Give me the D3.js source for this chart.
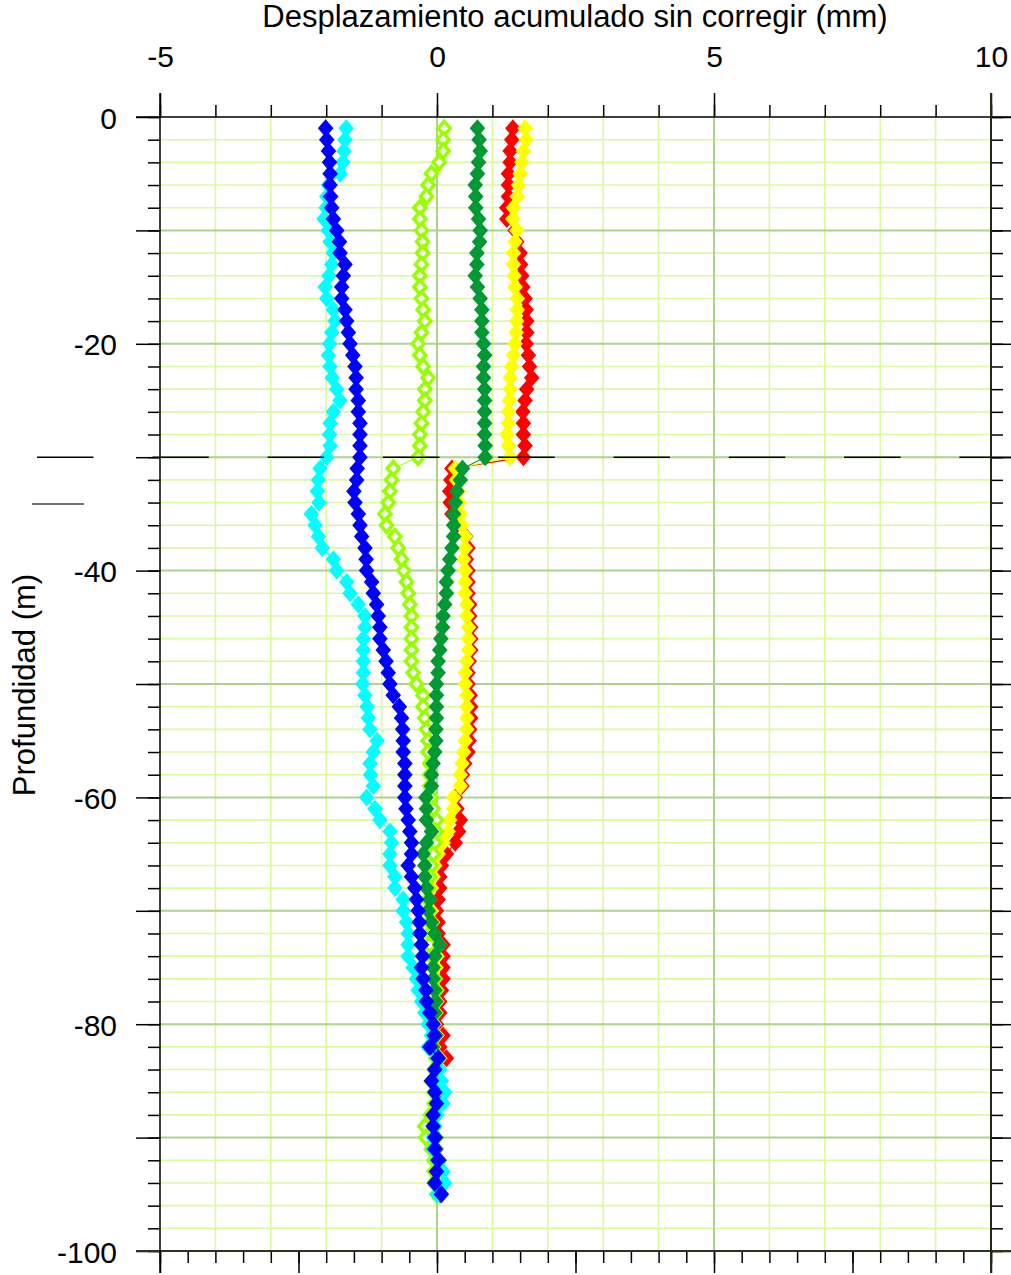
<!DOCTYPE html>
<html><head><meta charset="utf-8">
<script src="https://cdn.jsdelivr.net/npm/d3@7"></script>
<style>
html,body{margin:0;padding:0;background:#fff;}
svg{display:block;font-family:"Liberation Sans",Arial,sans-serif;}
</style></head>
<body><svg id="c" width="1011" height="1275"></svg>
<script>
const depths = [-1,-2,-3,-4,-5,-6,-7,-8,-9,-10,-11,-12,-13,-14,-15,-16,-17,-18,-19,-20,-21,-22,-23,-24,-25,-26,-27,-28,-29,-30,
-31,-32,-33,-34,-35,-36,-37,-38,-39,-40,-41,-42,-43,-44,-45,-46,-47,-48,-49,-50,-51,-52,-53,-54,-55,-56,-57,-58,-59,-60,
-61,-62,-63,-64,-65,-66,-67,-68,-69,-70,-71,-72,-73,-74,-75,-76,-77,-78,-79,-80,-81,-82,-83,-84,-85,-86,-87,-88,-89,-90,
-91,-92,-93,-94,-95];

const serRed = [1.37,1.35,1.32,1.32,1.29,1.29,1.29,1.26,1.26,1.41,1.44,1.50,1.51,1.53,1.55,1.59,1.61,1.62,1.62,1.61,1.65,1.67,1.71,1.62,1.59,1.55,1.56,1.56,1.59,1.56,
0.27,0.25,0.23,0.24,0.27,0.35,0.52,0.56,0.53,0.56,0.56,0.56,0.59,0.59,0.61,0.61,0.61,0.58,0.56,0.56,0.60,0.61,0.61,0.59,0.58,0.56,0.50,0.46,
0.45,0.33,0.36,0.42,0.39,0.33,0.17,0.08,0.05,0.05,0.02,-0.01,0.02,0.02,0.11,0.11,0.11,0.11,0.08,0.05,0.05,-0.01,0.11,0.05,0.17,
0.00,-0.05,0.00,0.02,-0.04,-0.05,-0.02,-0.02,0.04,0.01,-0.02,0.06];

const serYellow = [1.59,1.61,1.56,1.53,1.50,1.47,1.45,1.38,1.37,1.44,1.41,1.38,1.38,1.39,1.41,1.45,1.45,1.44,1.43,1.41,1.38,1.35,1.32,1.32,1.31,1.29,1.29,1.26,1.29,1.32,
0.33,0.35,0.38,0.40,0.42,0.45,0.51,0.51,0.48,0.51,0.51,0.51,0.54,0.54,0.57,0.57,0.57,0.54,0.51,0.51,0.54,0.54,0.54,0.54,0.51,0.48,0.45,0.42,
0.42,0.30,0.30,0.23,0.20,0.11,0.02,-0.04,-0.07,-0.10,-0.13,-0.10,-0.08,-0.05,0.05,0.00,-0.02,-0.03,-0.02,0.00,-0.02,-0.05,0.00,-0.06,0.05,
-0.02,-0.06,-0.02,0.00,-0.05,-0.06,-0.03,-0.03,0.02,0.00,-0.03,0.05];

const serLime = [0.13,0.11,0.11,0.04,-0.10,-0.16,-0.19,-0.31,-0.31,-0.28,-0.26,-0.26,-0.28,-0.31,-0.31,-0.28,-0.25,-0.22,-0.28,-0.34,-0.31,-0.25,-0.16,-0.22,-0.22,-0.25,-0.28,-0.31,-0.31,-0.34,
-0.79,-0.82,-0.85,-0.88,-0.94,-0.91,-0.76,-0.70,-0.64,-0.60,-0.55,-0.52,-0.49,-0.46,-0.46,-0.46,-0.46,-0.46,-0.43,-0.37,-0.25,-0.25,-0.22,-0.19,-0.16,-0.16,-0.13,-0.13,
-0.13,-0.10,-0.07,-0.01,-0.01,-0.04,-0.07,-0.10,-0.13,-0.16,-0.16,-0.14,-0.13,-0.13,-0.13,-0.10,-0.07,-0.04,-0.01,-0.04,-0.04,-0.06,
-0.05,-0.10,-0.02,-0.05,-0.10,-0.05,-0.05,-0.12,-0.22,-0.20,-0.10,-0.05,-0.05,-0.05,0.00];

const serGreen = [0.73,0.76,0.78,0.75,0.73,0.69,0.70,0.70,0.75,0.78,0.77,0.72,0.72,0.69,0.73,0.78,0.81,0.81,0.81,0.84,0.86,0.84,0.84,0.86,0.86,0.86,0.86,0.86,0.87,0.87,
0.46,0.42,0.36,0.33,0.30,0.30,0.30,0.27,0.23,0.20,0.17,0.17,0.14,0.11,0.10,0.07,0.05,0.02,0.02,-0.01,-0.01,-0.01,-0.01,-0.02,-0.02,-0.04,-0.07,-0.10,
-0.10,-0.20,-0.19,-0.19,-0.10,-0.19,-0.25,-0.22,-0.22,-0.19,-0.13,-0.16,-0.10,-0.04,0.05,-0.04,-0.07,-0.07,-0.04,-0.02,-0.04,-0.10,
-0.02,-0.08,0.03,0.00,-0.05,0.00,0.02,-0.04,-0.05,-0.02,-0.02,0.04,0.01,-0.02,0.06];

const serCyan = [-1.64,-1.66,-1.68,-1.70,-1.75,-1.96,-1.99,-2.00,-2.04,-1.96,-1.93,-1.87,-1.90,-1.95,-2.02,-1.99,-1.87,-1.84,-1.90,-1.94,-1.96,-1.93,-1.89,-1.81,-1.75,-1.87,-1.93,-1.94,-1.93,-1.99,
-2.11,-2.14,-2.16,-2.13,-2.27,-2.20,-2.14,-2.07,-1.87,-1.81,-1.63,-1.57,-1.42,-1.30,-1.30,-1.33,-1.33,-1.33,-1.33,-1.34,-1.30,-1.26,-1.24,-1.21,-1.08,-1.15,-1.21,-1.20,
-1.15,-1.27,-1.12,-1.03,-0.85,-0.82,-0.85,-0.85,-0.76,-0.76,-0.61,-0.61,-0.55,-0.52,-0.52,-0.52,-0.43,-0.37,-0.34,-0.28,-0.22,-0.16,-0.10,-0.16,0.00,
0.05,0.08,0.14,0.11,0.00,-0.04,-0.07,-0.07,0.00,0.11,0.14,0.00];

const serBlue = [-2.01,-1.99,-1.96,-1.94,-1.93,-1.93,-1.92,-1.90,-1.87,-1.81,-1.76,-1.75,-1.66,-1.69,-1.72,-1.72,-1.66,-1.63,-1.60,-1.57,-1.52,-1.48,-1.46,-1.46,-1.42,-1.42,-1.39,-1.39,-1.39,-1.39,
-1.44,-1.45,-1.50,-1.48,-1.42,-1.39,-1.36,-1.30,-1.28,-1.27,-1.18,-1.15,-1.09,-1.06,-1.03,-1.03,-0.97,-0.92,-0.88,-0.85,-0.79,-0.68,-0.64,-0.62,-0.61,-0.61,-0.58,-0.58,
-0.58,-0.58,-0.56,-0.52,-0.49,-0.46,-0.46,-0.52,-0.46,-0.40,-0.37,-0.34,-0.32,-0.31,-0.28,-0.26,-0.28,-0.25,-0.20,-0.19,-0.13,-0.07,-0.05,-0.13,0.02,
-0.04,-0.10,-0.04,-0.01,-0.07,-0.07,-0.04,-0.04,0.02,-0.01,-0.04,0.08];

const xLabels = [-5,0,5,10];
const yLabels = [0,-20,-40,-60,-80,-100];
const titleX = "Desplazamiento acumulado sin corregir (mm)";
const titleY = "Profundidad (m)";
const cutDepth = -30;

const seriesList = [
  {vals: serRed, color: "#ff0000", hollow: false},
  {vals: serYellow, color: "#ffff00", hollow: false},
  {vals: serLime, color: "#99ff00", hollow: true},
  {vals: serGreen, color: "#009933", hollow: false},
  {vals: serCyan, color: "#00ffff", hollow: false},
  {vals: serBlue, color: "#0000ff", hollow: false}
];

const svg = d3.select("#c");
const x = d3.scaleLinear().domain([-5,10]).range([160,991]);
const y = d3.scaleLinear().domain([0,-100]).range([117,1251]);
const X0 = x(-5), X1 = x(10), Y0 = y(0), Y1 = y(-100);

// grid
const g = svg.append("g");
const vMinor = d3.range(-4,10,1).filter(v => v % 5 !== 0);
const vMajor = [0,5];
const hMinor = d3.range(-2,-100,-2).filter(v => v % 10 !== 0);
const hMajor = d3.range(-10,-100,-10);
g.selectAll(".vm").data(vMinor).join("line")
  .attr("x1", d=>x(d)).attr("x2", d=>x(d)).attr("y1", Y0).attr("y2", Y1)
  .attr("stroke", "#dbfa9c").attr("stroke-width", 1.6);
g.selectAll(".hm").data(hMinor).join("line")
  .attr("y1", d=>y(d)).attr("y2", d=>y(d)).attr("x1", X0).attr("x2", X1)
  .attr("stroke", "#dbfa9c").attr("stroke-width", 1.6);
g.selectAll(".vM").data(vMajor).join("line")
  .attr("x1", d=>x(d)).attr("x2", d=>x(d)).attr("y1", Y0).attr("y2", Y1)
  .attr("stroke", "#abd48a").attr("stroke-width", 2);
g.selectAll(".hM").data(hMajor).join("line")
  .attr("y1", d=>y(d)).attr("y2", d=>y(d)).attr("x1", X0).attr("x2", X1)
  .attr("stroke", "#abd48a").attr("stroke-width", 2);

// series
const diamond = (w,h) => `M0,${-h}L${w},0L0,${h}L${-w},0Z`;
seriesList.forEach(s => {
  const pts = s.vals.map((v,i) => [v, depths[i]]);
  svg.append("path").datum(pts)
    .attr("d", d3.line().x(d=>x(d[0])).y(d=>y(d[1])))
    .attr("fill","none").attr("stroke", s.color).attr("stroke-width", 1.2);
  const m = svg.append("g").selectAll("path").data(pts).join("path")
    .attr("transform", d=>`translate(${x(d[0])},${y(d[1])})`);
  if (s.hollow) {
    m.attr("d", diamond(6,7)).attr("fill","#ffffff").attr("stroke", s.color).attr("stroke-width", 3.6);
  } else {
    m.attr("d", diamond(7.8,9)).attr("fill", s.color);
  }
});

// axes
const ax = svg.append("g").attr("font-family",'"Liberation Sans",Arial,sans-serif');
function cleanAxis(sel){ sel.select(".domain").remove(); sel.selectAll(".tick line").attr("stroke","#000").attr("stroke-width",1.5); }
const fmt = d => String(d);
// top
ax.append("g").attr("transform",`translate(0,${Y0})`)
  .call(d3.axisTop(x).tickValues(d3.range(-5,11,1)).tickSize(12).tickSizeOuter(0).tickFormat(""))
  .call(cleanAxis);
ax.append("g").attr("transform",`translate(0,${Y0})`)
  .call(d3.axisTop(x).tickValues(xLabels).tickSize(24).tickSizeOuter(0).tickPadding(26).tickFormat(fmt))
  .call(cleanAxis)
  .call(s => s.selectAll("text").attr("font-size",30).attr("fill","#000").attr("font-family",'"Liberation Sans",Arial,sans-serif'));
// bottom
ax.append("g").attr("transform",`translate(0,${Y1})`)
  .call(d3.axisBottom(x).tickValues(d3.range(-5,10.01,0.5)).tickSize(12).tickSizeOuter(0).tickFormat(""))
  .call(cleanAxis);
ax.append("g").attr("transform",`translate(0,${Y1})`)
  .call(d3.axisBottom(x).tickValues(d3.range(-5,10.01,2.5)).tickSize(22).tickSizeOuter(0).tickFormat(""))
  .call(cleanAxis);
// left
ax.append("g").attr("transform",`translate(${X0},0)`)
  .call(d3.axisLeft(y).tickValues(d3.range(0,-101,-2)).tickSize(12).tickSizeOuter(0).tickFormat(""))
  .call(cleanAxis);
ax.append("g").attr("transform",`translate(${X0},0)`)
  .call(d3.axisLeft(y).tickValues(d3.range(0,-101,-10)).tickSize(24).tickSizeOuter(0).tickFormat(""))
  .call(cleanAxis);
ax.append("g").selectAll("text").data(yLabels).join("text")
  .attr("x", 117).attr("y", d=>y(d)+11.5).attr("text-anchor","end")
  .attr("font-size",30).attr("fill","#000").text(fmt);
// right
ax.append("g").attr("transform",`translate(${X1},0)`)
  .call(d3.axisRight(y).tickValues(d3.range(0,-101,-2)).tickSize(12).tickSizeOuter(0).tickFormat(""))
  .call(cleanAxis);
ax.append("g").attr("transform",`translate(${X1},0)`)
  .call(d3.axisRight(y).tickValues(d3.range(0,-101,-10)).tickSize(20).tickSizeOuter(0).tickFormat(""))
  .call(cleanAxis);

// frame lines
ax.append("line").attr("x1",136).attr("x2",1011).attr("y1",Y0).attr("y2",Y0).attr("stroke","#000").attr("stroke-width",1.5);
ax.append("line").attr("x1",136).attr("x2",1011).attr("y1",Y1).attr("y2",Y1).attr("stroke","#2b3322").attr("stroke-width",2);
ax.append("line").attr("x1",X0).attr("x2",X0).attr("y1",93).attr("y2",1273).attr("stroke","#000").attr("stroke-width",1.5);
ax.append("line").attr("x1",X1).attr("x2",X1).attr("y1",93).attr("y2",1273).attr("stroke","#1e2a14").attr("stroke-width",2);

// dashed cut line
svg.append("line").attr("x1",37).attr("x2",1011).attr("y1",y(cutDepth)).attr("y2",y(cutDepth))
  .attr("stroke","#000").attr("stroke-width",1.5).attr("stroke-dasharray","56.5,58.8");
svg.append("line").attr("x1",32).attr("x2",84).attr("y1",504).attr("y2",504)
  .attr("stroke","#444").attr("stroke-width",1.5);

// titles
svg.append("text").attr("x",575).attr("y",27).attr("text-anchor","middle")
  .attr("font-size",31).attr("fill","#000").text(titleX);
svg.append("text").attr("transform","translate(35,685) rotate(-90)").attr("text-anchor","middle")
  .attr("font-size",31).attr("fill","#000").text(titleY);
</script></body></html>
